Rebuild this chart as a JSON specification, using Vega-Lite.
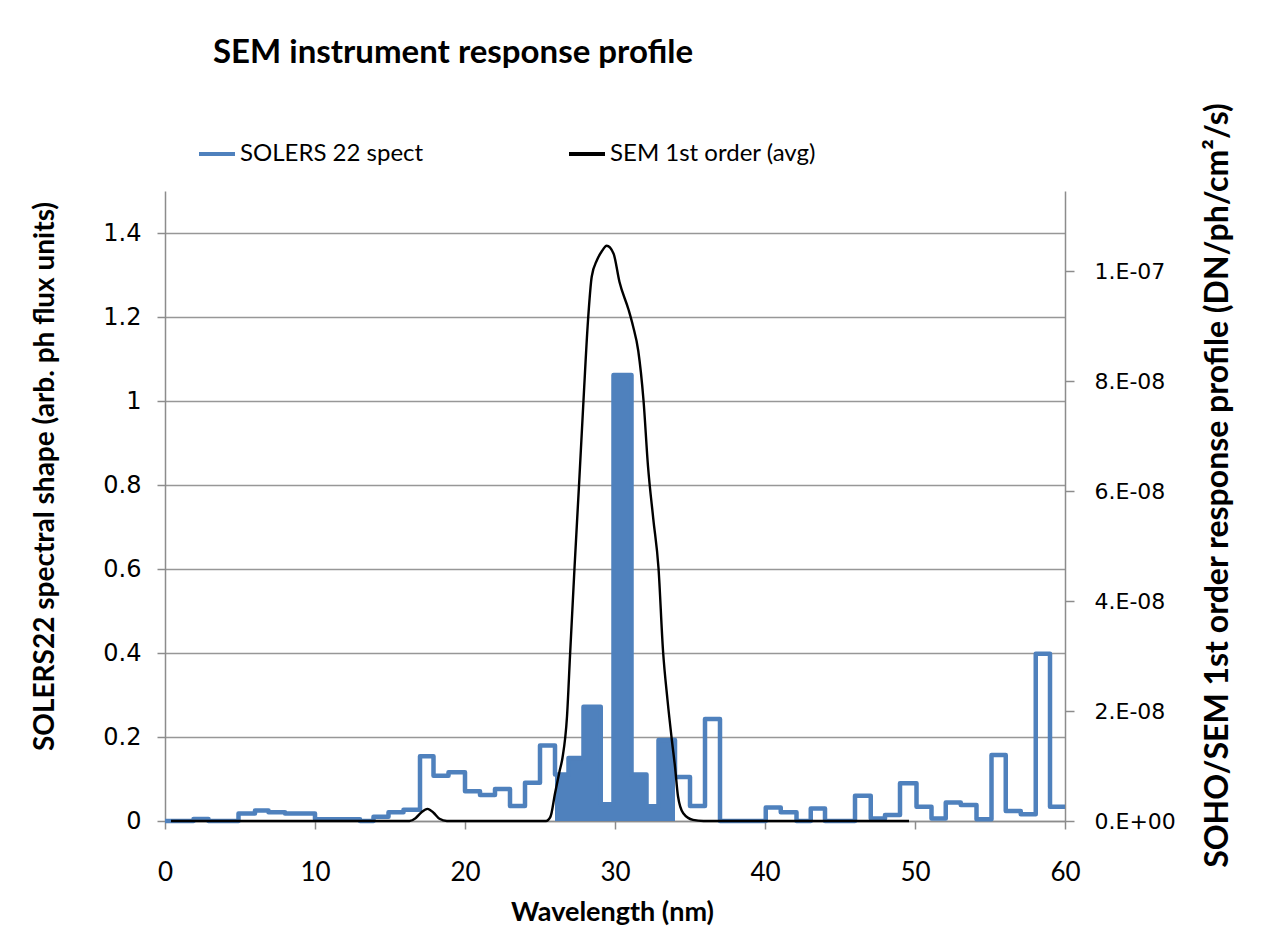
{
  "$schema": "https://vega.github.io/schema/vega-lite/v6.json",
  "width": 900,
  "height": 630,
  "autosize": {"type": "none"},
  "padding": {"left": 165, "top": 191, "right": 207, "bottom": 108},
  "background": "white",
  "title": {
    "text": "SEM instrument response profile",
    "anchor": "start",
    "frame": "group",
    "dx": 48,
    "offset": 28,
    "font": "Lato",
    "fontSize": 33,
    "fontWeight": "bold",
    "color": "#000000"
  },
  "config": {
    "view": {"stroke": null},
    "axis": {
      "domainColor": "#8c8c8c",
      "tickColor": "#8c8c8c",
      "domainWidth": 1.5,
      "tickWidth": 1.5,
      "labelColor": "#000000",
      "titleColor": "#000000",
      "labelOverlap": false,
      "labelFlush": false
    }
  },
  "datasets": {
    "solers": [
      {"wl": 0, "flux": 0},
      {"wl": 1.9, "flux": 0.005},
      {"wl": 2.9, "flux": 0},
      {"wl": 4.9, "flux": 0.018},
      {"wl": 6.0, "flux": 0.025},
      {"wl": 6.9, "flux": 0.021},
      {"wl": 8.0, "flux": 0.018},
      {"wl": 10.0, "flux": 0.004},
      {"wl": 13.0, "flux": 0},
      {"wl": 13.9, "flux": 0.01},
      {"wl": 14.9, "flux": 0.021},
      {"wl": 15.9, "flux": 0.027},
      {"wl": 17.0, "flux": 0.154},
      {"wl": 17.9, "flux": 0.108},
      {"wl": 18.9, "flux": 0.116},
      {"wl": 20.0, "flux": 0.071},
      {"wl": 21.0, "flux": 0.062},
      {"wl": 22.0, "flux": 0.076},
      {"wl": 23.0, "flux": 0.036},
      {"wl": 24.0, "flux": 0.091},
      {"wl": 25.0, "flux": 0.18},
      {"wl": 26.0, "flux": 0.111},
      {"wl": 26.9, "flux": 0.15},
      {"wl": 27.9, "flux": 0.272},
      {"wl": 29.05, "flux": 0.04},
      {"wl": 29.9, "flux": 1.062},
      {"wl": 31.1, "flux": 0.111},
      {"wl": 32.1, "flux": 0.035},
      {"wl": 32.9, "flux": 0.193},
      {"wl": 34.0, "flux": 0.105},
      {"wl": 35.0, "flux": 0.036},
      {"wl": 36.0, "flux": 0.243},
      {"wl": 37.0, "flux": 0},
      {"wl": 40.05, "flux": 0.032},
      {"wl": 41.05, "flux": 0.021},
      {"wl": 42.1, "flux": 0},
      {"wl": 43.05, "flux": 0.03},
      {"wl": 44.0, "flux": 0},
      {"wl": 46.0, "flux": 0.06},
      {"wl": 47.05, "flux": 0.006},
      {"wl": 48.0, "flux": 0.014},
      {"wl": 49.0, "flux": 0.09},
      {"wl": 50.1, "flux": 0.034},
      {"wl": 51.1, "flux": 0.006},
      {"wl": 52.05, "flux": 0.044},
      {"wl": 53.05, "flux": 0.038},
      {"wl": 54.1, "flux": 0.004},
      {"wl": 55.1, "flux": 0.157},
      {"wl": 56.05, "flux": 0.024},
      {"wl": 57.05, "flux": 0.016},
      {"wl": 58.05, "flux": 0.398},
      {"wl": 59.0, "flux": 0.034},
      {"wl": 60.0, "flux": 0.034}
    ],
    "sem": [
      {"wl": 0.4, "resp": 0},
      {"wl": 5, "resp": 0},
      {"wl": 10, "resp": 0},
      {"wl": 15, "resp": 0},
      {"wl": 16.3, "resp": 0},
      {"wl": 16.7, "resp": 0.5e-9},
      {"wl": 17.1, "resp": 1.6e-9},
      {"wl": 17.5, "resp": 2.2e-9},
      {"wl": 17.9, "resp": 1.5e-9},
      {"wl": 18.3, "resp": 0.4e-9},
      {"wl": 18.8, "resp": 0},
      {"wl": 20, "resp": 0},
      {"wl": 25, "resp": 0},
      {"wl": 25.4, "resp": 0},
      {"wl": 25.7, "resp": 0.8e-9},
      {"wl": 26.0, "resp": 5e-9},
      {"wl": 26.3, "resp": 9e-9},
      {"wl": 26.5, "resp": 1.15e-8},
      {"wl": 26.8, "resp": 1.9e-8},
      {"wl": 27.0, "resp": 3.0e-8},
      {"wl": 27.3, "resp": 4.6e-8},
      {"wl": 27.6, "resp": 6.1e-8},
      {"wl": 27.9, "resp": 7.65e-8},
      {"wl": 28.2, "resp": 9.1e-8},
      {"wl": 28.45, "resp": 9.9e-8},
      {"wl": 28.8, "resp": 1.02e-7},
      {"wl": 29.1, "resp": 1.035e-7},
      {"wl": 29.45, "resp": 1.046e-7},
      {"wl": 29.9, "resp": 1.032e-7},
      {"wl": 30.3, "resp": 9.8e-8},
      {"wl": 30.9, "resp": 9.3e-8},
      {"wl": 31.2, "resp": 9.0e-8},
      {"wl": 31.55, "resp": 8.55e-8},
      {"wl": 31.9, "resp": 7.65e-8},
      {"wl": 32.2, "resp": 6.45e-8},
      {"wl": 32.55, "resp": 5.5e-8},
      {"wl": 32.9, "resp": 4.6e-8},
      {"wl": 33.2, "resp": 3.1e-8},
      {"wl": 33.5, "resp": 2.2e-8},
      {"wl": 33.8, "resp": 1.45e-8},
      {"wl": 34.0, "resp": 9.9e-9},
      {"wl": 34.2, "resp": 4.5e-9},
      {"wl": 34.55, "resp": 1.4e-9},
      {"wl": 35.2, "resp": 0.2e-9},
      {"wl": 35.9, "resp": 0},
      {"wl": 40, "resp": 0},
      {"wl": 45, "resp": 0},
      {"wl": 49.6, "resp": 0}
    ]
  },
  "layer": [
    {
      "data": {"name": "solers"},
      "layer": [
        {
          "transform": [{"filter": "datum.wl >= 26 && datum.wl <= 34"}],
          "mark": {"type": "area", "interpolate": "step-after", "color": "#4F81BD", "opacity": 1},
          "encoding": {
            "x": {"field": "wl", "type": "quantitative", "scale": {"domain": [0, 60], "nice": false}},
            "y": {"field": "flux", "type": "quantitative", "scale": {"domain": [0, 1.5], "nice": false}}
          }
        },
        {
          "mark": {"type": "line", "interpolate": "step-after", "strokeWidth": 4.5, "strokeJoin": "round"},
          "encoding": {
            "x": {
              "field": "wl",
              "type": "quantitative",
              "scale": {"domain": [0, 60], "nice": false},
              "axis": {
                "values": [0, 10, 20, 30, 40, 50, 60],
                "title": "Wavelength (nm)",
                "grid": false,
                "tickSize": 8,
                "labelPadding": 30,
                "labelFont": "Lato",
                "labelFontSize": 26,
                "titleFont": "Lato",
                "titleFontSize": 27,
                "titleFontWeight": "bold",
                "titleX": 447,
                "titleY": 91,
                "titleBaseline": "middle"
              }
            },
            "y": {
              "field": "flux",
              "type": "quantitative",
              "scale": {"domain": [0, 1.5], "nice": false},
              "axis": {
                "orient": "left",
                "values": [0, 0.2, 0.4, 0.6, 0.8, 1, 1.2, 1.4],
                "format": ".1~f",
                "grid": true,
                "gridColor": "#979797",
                "gridWidth": 1.4,
                "tickSize": 8,
                "labelPadding": 16,
                "labelFont": "DejaVu Sans",
                "labelFontSize": 24,
                "title": "SOLERS22 spectral shape (arb. ph flux units)",
                "titleFont": "Lato",
                "titleFontSize": 28,
                "titleFontWeight": "bold",
                "titleX": -120,
                "titleY": 285,
                "titleBaseline": "middle"
              }
            },
            "color": {
              "datum": "SOLERS 22 spect",
              "type": "nominal",
              "scale": {"domain": ["SOLERS 22 spect", "SEM 1st order (avg)"], "range": ["#4F81BD", "#000000"]},
              "legend": {
                "orient": "none",
                "legendX": 32,
                "legendY": -57,
                "direction": "horizontal",
                "title": null,
                "symbolType": "stroke",
                "symbolSize": 1296,
                "symbolStrokeWidth": 4,
                "labelFont": "Lato",
                "labelFontSize": 24,
                "labelOffset": 3,
                "labelLimit": 0,
                "columnPadding": 137,
                "labelColor": "#000000"
              }
            }
          }
        }
      ]
    },
    {
      "data": {"name": "sem"},
      "mark": {"type": "line", "interpolate": "monotone", "strokeWidth": 2.4},
      "encoding": {
        "x": {"field": "wl", "type": "quantitative", "scale": {"domain": [0, 60], "nice": false}},
        "y": {
          "field": "resp",
          "type": "quantitative",
          "scale": {"domain": [0, 1.1455e-7], "nice": false},
          "axis": {
            "orient": "right",
            "values": [0, 2e-8, 4e-8, 6e-8, 8e-8, 1e-7],
            "labelExpr": "datum.value == 0 ? '0.E+00' : datum.value > 9e-8 ? '1.E-07' : format(datum.value * 1e8, '.0f') + '.E-08'",
            "grid": false,
            "tickSize": 9,
            "labelPadding": 20,
            "labelFont": "DejaVu Sans",
            "labelFontSize": 22,
            "title": "SOHO/SEM  1st order response profile (DN/ph/cm²/s)",
            "titleFont": "Lato",
            "titleFontSize": 32,
            "titleFontWeight": "bold",
            "titleAngle": 270,
            "titleX": 152,
            "titleY": 294,
            "titleBaseline": "middle"
          }
        },
        "color": {"datum": "SEM 1st order (avg)", "type": "nominal"}
      }
    }
  ],
  "resolve": {"scale": {"y": "independent"}}
}
